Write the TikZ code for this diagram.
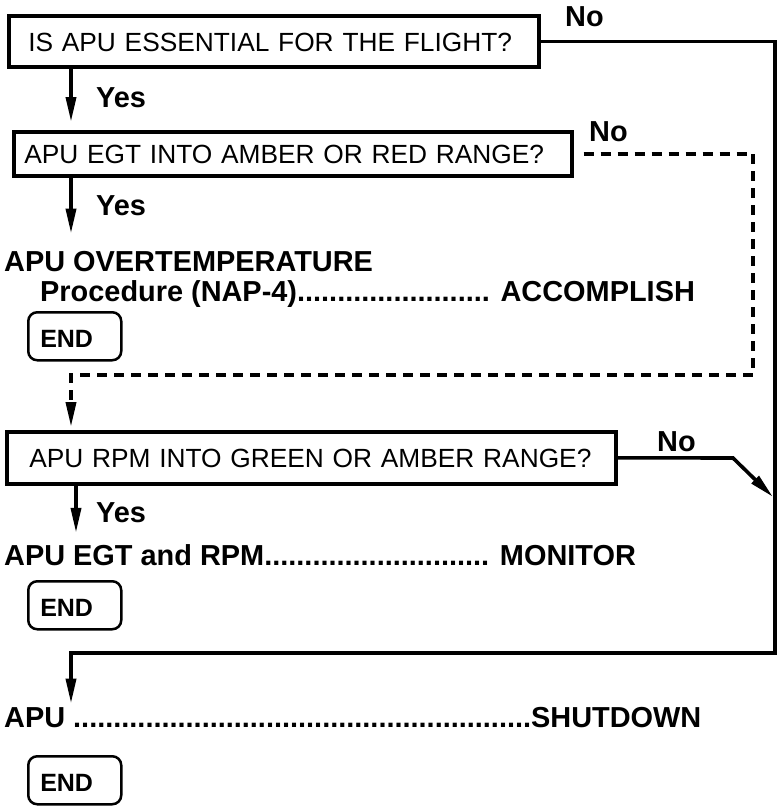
\documentclass[tikz,border=0pt]{standalone}
\usepackage{fontspec}
\setmainfont{Liberation Sans}
\usetikzlibrary{arrows.meta, positioning, calc}

\begin{document}
\begin{tikzpicture}[
  x=1pt, y=-1pt,
  question/.style={draw, line width=3.6pt, anchor=north west, align=left, inner ysep=0pt, text height=20pt, text depth=0pt, font=\fontsize{26.3}{30}\selectfont},
  endbox/.style={draw, line width=2.5pt, rounded corners=9pt, anchor=north west, align=left, inner xsep=12pt, inner ysep=0pt, text width=69pt, minimum height=48pt, text height=22pt, text depth=0pt, font=\fontsize{25}{28}\selectfont\bfseries},
  answer/.style={anchor=base west, inner sep=0pt, font=\fontsize{28.9}{32}\selectfont\bfseries},
  action/.style={anchor=base west, inner sep=0pt, font=\fontsize{28.9}{32}\selectfont\bfseries},
  arrow/.style={-{Triangle[length=25pt, width=10pt]}, line width=3.6pt},
  dashline/.style={dash pattern=on 10pt off 7pt}
]
  \useasboundingbox (0,0) rectangle (780,806);

  % Columns and corners
  \coordinate (col) at (71,0);
  \coordinate (col3) at (76,0);
  \coordinate (rail) at (775,653);
  \coordinate (dcorner) at (753,375);
  \coordinate (kink) at (733,458);
  \coordinate (hit) at (773,497);

  % Questions
  \node[question, inner xsep=19.5pt, text width=491pt, minimum height=51pt] (q1) at (7,14) {IS APU ESSENTIAL FOR THE FLIGHT?};
  \node[question, inner xsep=10.5pt, text width=537pt, minimum height=44pt] (q2) at (12,130) {APU EGT INTO AMBER OR RED RANGE?};
  \node[question, inner xsep=22.5pt, text width=564pt, minimum height=52pt] (q3) at (5,430) {APU RPM INTO GREEN OR AMBER RANGE?};

  % Answers
  \node[answer] (yes1) at (96,107) {Yes};
  \node[answer] (yes2) at (96,215) {Yes};
  \node[answer] (yes3) at (96,522) {Yes};
  \node[answer] (no1) at (565,26) {No};
  \node[answer] (no2) at (589,141) {No};
  \node[answer] (no3) at (657,451) {No};

  % Actions
  \node[action] (ot) at (4,271) {APU OVERTEMPERATURE};
  \node[action] (otproc) at (40,301) {Procedure (NAP-4)........{}........{}........ ACCOMPLISH};
  \node[endbox] (end1) at (27,311) {END};
  \node[action] (mon) at (4,565) {APU EGT and RPM........{}........{}........{}.... MONITOR};
  \node[endbox] (end2) at (27,580) {END};
  \node[action] (shut) at (4,727) {APU ........{}........{}........{}........{}........{}........{}........{}.SHUTDOWN};
  \node[endbox] (end3) at (27,755) {END};

  % Yes arrows
  \draw[arrow, shorten >=8pt] (q1.south -| col) -- (q2.north -| col);
  \draw[arrow, shorten >=17pt] (q2.south -| col) -- (ot.north -| col);
  \draw[arrow, shorten >=11pt] (q3.south -| col3) -- (mon.north -| col3);

  % No arrows
  \draw[arrow, shorten >=3pt] (q1.east) -| (rail) -| (shut.north -| col);
  \draw[arrow, dashline, shorten <=10pt, shorten >=3pt] (q2.east) -| (dcorner) -| (q3.north -| col);
  \draw[arrow] (q3.east) -- (kink) -- (hit);
\end{tikzpicture}
\end{document}
